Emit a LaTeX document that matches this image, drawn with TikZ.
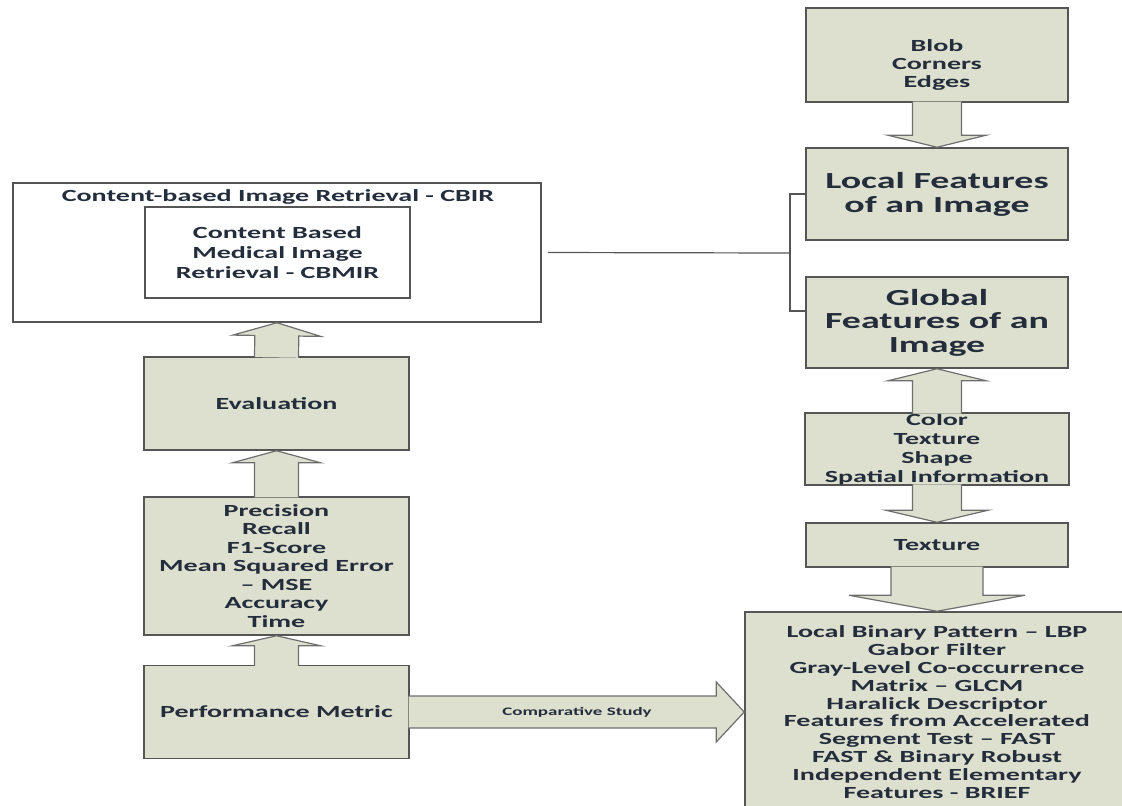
\documentclass[tikz,border=0pt]{standalone}
\usepackage{fontspec}
\setmainfont{Carlito}[FakeStretch=1.65]
\usetikzlibrary{calc}

\definecolor{boxfill}{RGB}{222,224,207}
\definecolor{boxline}{RGB}{85,85,85}
\definecolor{boxtext}{RGB}{35,45,60}

\tikzset{
  box/.style={draw=boxline, line width=1.5pt, fill=boxfill, inner sep=0pt,
              align=center, text=boxtext,
              font=\fontsize{17}{18.5}\selectfont\bfseries},
  whitebox/.style={box, fill=white},
  bigtext/.style={font=\fontsize{23}{24}\selectfont\bfseries},
  fatarrow/.style={draw=boxline!85, line width=1.2pt, fill=boxfill, line join=miter},
  thinline/.style={draw=boxline, line width=1.2pt},
}

% 空心粗箭头：起点, 终点, 箭杆半宽, 箭头半宽, 箭头长度
\newcommand{\blockarrow}[5]{%
  \coordinate (hb) at ($(#2)!#5!(#1)$);
  \coordinate (bs) at ($(#1)!-1.2pt!(#2)$);
  \filldraw[fatarrow] ($(bs)!#3!90:(#2)$) -- ($(hb)!#3!-90:(#1)$)
       -- ($(hb)!#4!-90:(#1)$) -- (#2) -- ($(hb)!#4!90:(#1)$)
       -- ($(hb)!#3!90:(#1)$) -- ($(bs)!#3!-90:(#2)$);
}

\begin{document}
\begin{tikzpicture}[x=1pt, y=-1pt]

  \useasboundingbox (0,0) rectangle (1122,806);

  % ========== 左：CBIR 与评价 ==========
  \begin{scope}

    % 外框与标题
    \node[whitebox, minimum width=528pt, minimum height=139pt] (cbir) at (277,252.5) {};
    \node[text=boxtext, font=\fontsize{17}{18.5}\selectfont\bfseries] (cbirtitle)
         at (278,197) {Content-based Image Retrieval - CBIR};

    % 内框
    \node[whitebox, minimum width=265pt, minimum height=91pt,
          font=\fontsize{17}{20}\selectfont\bfseries] (cbmir) at (277.5,252.5)
         {Content Based\\Medical Image\\Retrieval - CBMIR};

    % 三个灰绿色方框
    \node[box, minimum width=265pt, minimum height=93pt] (eval) at (276.5,403.5) {Evaluation};
    \node[box, minimum width=265pt, minimum height=138pt] (prec) at (276.5,566)
         {Precision\\Recall\\F1-Score\\Mean Squared Error\\– MSE\\Accuracy\\Time};
    \node[box, minimum width=265pt, minimum height=93pt] (perf) at (276.5,712) {Performance Metric};

    % 向上的空心箭头
    \blockarrow{eval.north}{cbir.south}{22pt}{44pt}{13pt}
    \blockarrow{prec.north}{eval.south}{22pt}{44pt}{12pt}
    \blockarrow{perf.north}{prec.south}{22pt}{44pt}{10pt}
  \end{scope}

  % ========== 右：特征 ==========
  \begin{scope}

    \node[box, minimum width=262pt, minimum height=94pt] (blob) at (937,55) {};
    \node[text=boxtext, align=center, font=\fontsize{17}{18}\selectfont\bfseries] (blobtext)
         at (937,65) {Blob\\Corners\\Edges};

    \node[box, bigtext, minimum width=262pt, minimum height=92pt] (local) at (937,194)
         {Local Features\\of an Image};
    \node[box, bigtext, minimum width=262pt, minimum height=91pt,
          font=\fontsize{23}{23.5}\selectfont\bfseries] (global) at (937,322.5)
         {Global\\Features of an\\Image};

    \node[box, minimum width=264pt, minimum height=68pt,
          font=\fontsize{17}{19}\selectfont\bfseries] (color) at (937,449)
         {Color\\Texture\\Shape\\Spatial Information};
    \node[box, minimum width=262pt, minimum height=44pt] (texture) at (937,545) {Texture};

    % 最下面的大框（超出画面）
    \node[box, minimum width=384pt, minimum height=200pt,
          font=\fontsize{17}{17.8}\selectfont\bfseries] (big) at (937,712)
         {Local Binary Pattern – LBP\\Gabor Filter\\Gray-Level Co-occurrence\\Matrix – GLCM\\
          Haralick Descriptor\\Features from Accelerated\\Segment Test – FAST\\
          FAST \& Binary Robust\\Independent Elementary\\Features - BRIEF};

    \blockarrow{blob.south}{local.north}{24.5pt}{49pt}{12pt}
    \blockarrow{color.north}{global.south}{24.5pt}{49pt}{12pt}
    \blockarrow{color.south}{texture.north}{24.5pt}{51pt}{12pt}
    \blockarrow{texture.south}{big.north}{46pt}{88pt}{16pt}
  \end{scope}

  % ========== 连接线 ==========
  \coordinate (split) at (790,253);
  \draw[thinline, shorten <=6pt] (cbir.east) -- (split);
  \draw[thinline] (local.west) -| (split) |- ([yshift=11.5pt]global.west);

  % 比较研究的横向箭头
  \blockarrow{perf.east}{big.west}{16pt}{30pt}{28pt}
  \path (perf.east) -- (big.west)
       node[midway, text=boxtext, font=\fontsize{11.5}{12}\selectfont\bfseries] (cmplabel)
       {Comparative Study};

\end{tikzpicture}
\end{document}
